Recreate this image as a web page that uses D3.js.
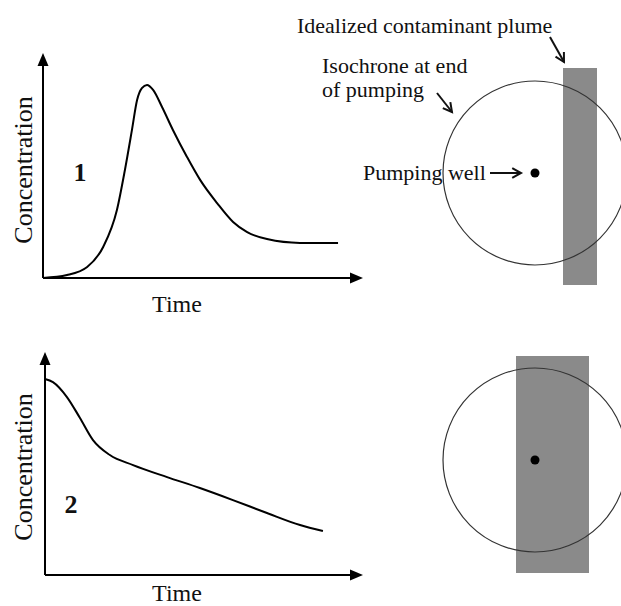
<!DOCTYPE html>
<html>
<head>
<meta charset="utf-8">
<script src="https://cdn.jsdelivr.net/npm/d3@7"></script>
<style>
    body { margin: 0; background: #fff; }
    text { font-family: "Liberation Serif", "Times New Roman", serif; fill: #111; }
</style>
</head>
<body>
<script>
//breakthrough curve 1 (plume reaches the well later)
var time1 = [0, 7.5, 13.8, 18.8, 23.1, 25.6, 27.8, 29.4, 30.9, 32.5, 34.4, 37.2, 40.6, 45, 49.1, 54.4, 59.4, 63.8, 70, 80.3, 92.2];
var conc1 = [0, 1.3, 4.9, 13.8, 30.2, 48, 65.8, 79.1, 84.4, 85.8, 83.6, 76, 65.8, 53.8, 43.6, 33.3, 24.9, 20.4, 17.3, 15.6, 15.6];

//curve 2 (well sits inside the plume)
var time2 = [0, 2.5, 6.9, 11, 15.1, 20.4, 27.7, 38.4, 48.7, 59.1, 69.8, 80.2, 87.4];
var conc2 = [87.9, 86.5, 79.8, 70.4, 60.5, 53.8, 49.3, 43.9, 39, 33.6, 27.8, 22.4, 19.7];

var panelLabels = ["1", "2"];

window.onload = drawFigure();

function drawFigure(){

    var width = 621,
        height = 606;

    var svg = d3.select("body")
        .append("svg")
        .attr("width", width)
        .attr("height", height);

    //left hand graphs
    drawGraph({ x0: 43, x1: 363, y0: 278, y1: 53, t: time1, c: conc1, label: panelLabels[0],
                labelX: 80, labelY: 181, conY: 170, timeY: 312 });
    drawGraph({ x0: 45, x1: 363, y0: 575, y1: 352, t: time2, c: conc2, label: panelLabels[1],
                labelX: 71, labelY: 513, conY: 467, timeY: 601 });

    function drawGraph(p){
        var x = d3.scaleLinear().domain([0, 100]).range([p.x0, p.x1]);
        var y = d3.scaleLinear().domain([0, 100]).range([p.y0, p.y1]);
        var g = svg.append("g");

        //axes with filled arrow heads
        g.append("line")
            .attr("x1", x(0)).attr("y1", y(0))
            .attr("x2", x(0)).attr("y2", y(100) + 8)
            .attr("stroke", "#000").attr("stroke-width", 2);
        g.append("line")
            .attr("x1", x(0)).attr("y1", y(0))
            .attr("x2", x(100) - 8).attr("y2", y(0))
            .attr("stroke", "#000").attr("stroke-width", 2);
        g.append("path")
            .attr("d", "M" + x(0) + "," + y(100) + "l-5.5,13h11z")
            .attr("fill", "#000");
        g.append("path")
            .attr("d", "M" + x(100) + "," + y(0) + "l-13,-5.5v11z")
            .attr("fill", "#000");

        var line = d3.line()
            .x(function(d, i){ return x(p.t[i]); })
            .y(function(d){ return y(d); })
            .curve(d3.curveMonotoneX);

        g.append("path")
            .datum(p.c)
            .attr("d", line)
            .attr("fill", "none")
            .attr("stroke", "#000")
            .attr("stroke-width", 2);

        g.append("text")
            .attr("transform", "translate(23," + p.conY + ") rotate(-90)")
            .attr("text-anchor", "middle")
            .attr("dominant-baseline", "central")
            .style("font-size", "26px")
            .text("Concentration");

        g.append("text")
            .attr("x", 177).attr("y", p.timeY)
            .attr("text-anchor", "middle")
            .style("font-size", "24px")
            .text("Time");

        g.append("text")
            .attr("x", p.labelX).attr("y", p.labelY)
            .attr("text-anchor", "middle")
            .style("font-size", "26px")
            .style("font-weight", "bold")
            .text(p.label);
    }

    //plan view sketches
    drawPlan({ cx: 535, cy: 173, px: 563, py: 68, pw: 34, ph: 217 });
    drawPlan({ cx: 535, cy: 460, px: 516, py: 356, pw: 73, ph: 217 });

    function drawPlan(p){
        var g = svg.append("g");
        g.append("rect")
            .attr("x", p.px).attr("y", p.py)
            .attr("width", p.pw).attr("height", p.ph)
            .attr("fill", "#8a8a8a");
        g.append("circle")
            .attr("cx", p.cx).attr("cy", p.cy).attr("r", 92)
            .attr("fill", "none")
            .attr("stroke", "#333")
            .attr("stroke-width", 1.2);
        g.append("circle")
            .attr("cx", p.cx).attr("cy", p.cy).attr("r", 4.5)
            .attr("fill", "#000");
    }

    //annotations
    var notes = [
        { text: "Idealized contaminant plume", x: 297, y: 33 },
        { text: "Isochrone at end", x: 322, y: 73 },
        { text: "of pumping", x: 322, y: 97 },
        { text: "Pumping well", x: 363, y: 180 }
    ];
    svg.selectAll(".note")
        .data(notes)
        .enter()
        .append("text")
        .attr("class", "note")
        .attr("x", function(d){ return d.x; })
        .attr("y", function(d){ return d.y; })
        .style("font-size", "22px")
        .text(function(d){ return d.text; });

    //open headed pointer arrows
    var arrows = [
        [550, 37, 564, 62],
        [437, 93, 452, 112],
        [490, 173, 521, 173]
    ];
    arrows.forEach(function(a){
        var ang = Math.atan2(a[3] - a[1], a[2] - a[0]);
        var len = 10, spread = 0.5;
        svg.append("line")
            .attr("x1", a[0]).attr("y1", a[1])
            .attr("x2", a[2]).attr("y2", a[3])
            .attr("stroke", "#111").attr("stroke-width", 2);
        svg.append("path")
            .attr("d", "M" + (a[2] - len * Math.cos(ang - spread)) + "," + (a[3] - len * Math.sin(ang - spread)) +
                       "L" + a[2] + "," + a[3] +
                       "L" + (a[2] - len * Math.cos(ang + spread)) + "," + (a[3] - len * Math.sin(ang + spread)))
            .attr("fill", "none")
            .attr("stroke", "#111")
            .attr("stroke-width", 2);
    });
}
</script>
</body>
</html>
